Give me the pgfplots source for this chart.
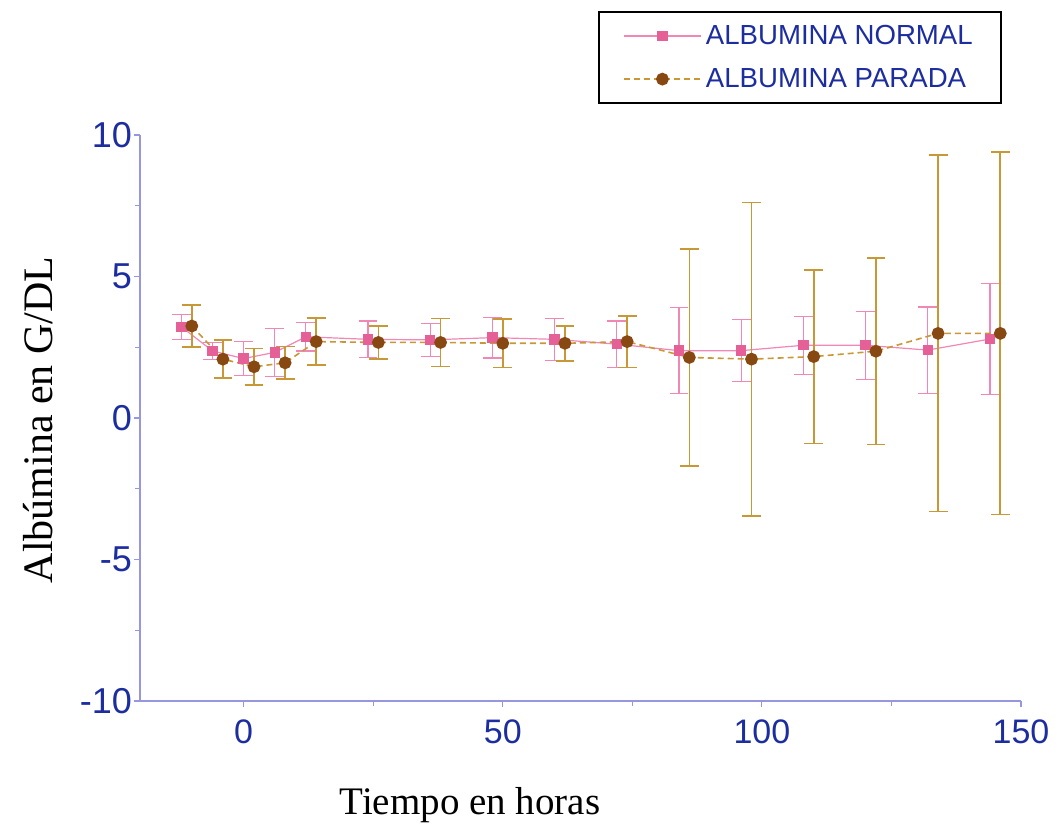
\documentclass[border=0pt]{standalone}
\usepackage{pgfplots}
\pgfplotsset{compat=1.18}
\usepackage{pgfplotstable}
\usepackage{fontspec}
\setmainfont{Liberation Serif}
\newfontfamily\arial{Liberation Sans}
\definecolor{tickblue}{RGB}{28,45,160}
\definecolor{axislav}{RGB}{150,150,225}
\definecolor{pinkm}{RGB}{228,96,150}
\definecolor{pinkl}{RGB}{240,135,180}
\definecolor{brownm}{RGB}{135,72,18}
\definecolor{goldl}{RGB}{200,152,55}

\pgfplotstableread{
x y e
-12 3.22 0.45
-6 2.37 0.30
0 2.10 0.60
6 2.32 0.85
12 2.87 0.50
24 2.78 0.65
36 2.76 0.58
48 2.84 0.72
60 2.78 0.74
72 2.61 0.82
84 2.38 1.52
96 2.38 1.10
108 2.57 1.02
120 2.57 1.20
132 2.40 1.52
144 2.79 1.96
}\normal

\pgfplotstableread{
x y e
-10 3.25 0.75
-4 2.08 0.67
2 1.81 0.64
8 1.95 0.57
14 2.70 0.83
26 2.67 0.58
38 2.67 0.85
50 2.64 0.85
62 2.64 0.62
74 2.70 0.91
86 2.14 3.83
98 2.08 5.54
110 2.17 3.07
122 2.36 3.30
134 2.99 6.30
146 2.99 6.40
}\parada

\begin{document}
\begin{tikzpicture}
\useasboundingbox (0pt,0pt) rectangle (531.5pt,416pt);
\begin{axis}[
  at={(70pt,65.5pt)}, anchor=south west,
  scale only axis, width=440.5pt, height=283pt,
  xmin=-20, xmax=150, ymin=-10, ymax=10,
  axis lines*=left,
  axis line style={axislav, line width=0.7pt, -},
  tick align=outside, major tick length=3pt, minor tick length=2.5pt,
  tick style={axislav, line width=0.6pt},
  xtick pos=left, ytick pos=left,
  xtick={0,50,100,150}, xticklabels={0,50,100,150},
  ytick={-10,-5,0,5,10}, yticklabels={-10,-5,0,5,10},
  minor xtick={25,75,125}, minor ytick={-7.5,-2.5,2.5,7.5},
  xticklabel style={font=\arial\fontsize{17}{17}\selectfont, text=tickblue, yshift=-3pt},
  yticklabel style={font=\arial\fontsize{18}{18}\selectfont, text=tickblue, xshift=2.5pt},
  clip=false,
  legend style={at={(axis description cs:0.52,1.219)}, anchor=north west,
    draw=black, line width=0.8pt,
    font=\arial\fontsize{13.8}{15}\selectfont,
    text=tickblue, inner xsep=12pt, inner ysep=4.5pt, row sep=6.5pt,
    /tikz/every even column/.append style={column sep=3pt}},
  legend cell align=left,
  legend image code/.code={\draw[mark repeat=2,mark phase=2] plot coordinates {(0cm,0cm) (0.68cm,0cm) (1.36cm,0cm)};},
]
\addplot[color=pinkl, line width=0.6pt, mark=square*, mark size=2.3pt,
  mark options={fill=pinkm, draw=pinkm, solid},
  error bars/.cd, y dir=both, y explicit,
  error bar style={pinkl, line width=0.6pt, solid},
  error mark options={rotate=90, mark size=4.7pt, pinkl, line width=0.6pt}]
  table[x=x, y=y, y error=e] {\normal};
\addlegendentry{ALBUMINA NORMAL}
\addplot[color=goldl, line width=0.8pt, densely dashed, mark=*, mark size=2.8pt,
  mark options={fill=brownm, draw=brownm, solid},
  error bars/.cd, y dir=both, y explicit,
  error bar style={goldl, line width=0.8pt, solid},
  error mark options={rotate=90, mark size=4.7pt, goldl, line width=0.8pt}]
  table[x=x, y=y, y error=e] {\parada};
\addlegendentry{ALBUMINA PARADA}
\end{axis}
\node at (235pt,13.5pt) {\fontsize{19.5}{20}\selectfont Tiempo en horas};
\node[rotate=90] at (19pt,206pt) {\fontsize{21}{22}\selectfont Albúmina en G/DL};
\end{tikzpicture}
\end{document}
